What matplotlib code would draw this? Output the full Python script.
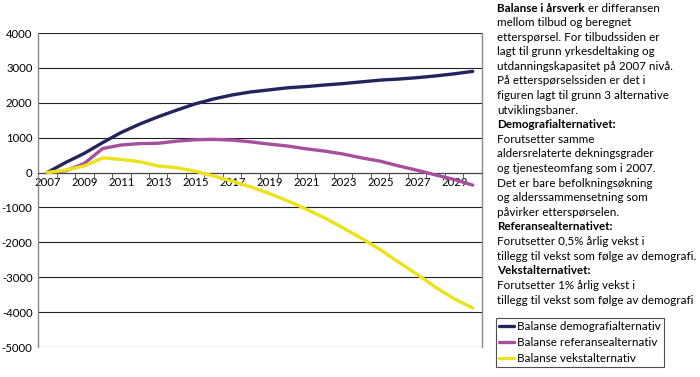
import matplotlib
matplotlib.use("Agg")
import matplotlib.pyplot as plt

plt.rcParams['font.family'] = ['Lato', 'DejaVu Sans']

years = list(range(2007, 2031))
demografi = [0, 290, 550, 860, 1150, 1390, 1600, 1790, 1970, 2110, 2225, 2310,
             2370, 2430, 2465, 2510, 2550, 2600, 2650, 2680, 2720, 2770, 2830, 2900]
referanse = [0, 50, 260, 690, 790, 830, 840, 900, 940, 950, 930, 880,
             815, 760, 680, 615, 530, 420, 325, 190, 65, -70, -200, -360]
vekst = [0, 70, 190, 420, 375, 310, 190, 135, 40, -100, -250, -410,
         -600, -810, -1050, -1300, -1590, -1890, -2210, -2570, -2920, -3290, -3620, -3880]

series_labels = ["Balanse demografialternativ", "Balanse referansealternativ",
                 "Balanse vekstalternativ"]
series_colors = ["#23245e", "#a4509f", "#ece21c"]

yticks = list(range(-5000, 4001, 1000))

fig = plt.figure(figsize=(7, 3.77), dpi=100)
ax = fig.add_axes([38/700, 1 - 347/377, 444/700, 314/377])

x = list(range(len(years)))
lines = []
for vals, color, label in zip([demografi, referanse, vekst], series_colors, series_labels):
    ln, = ax.plot(x, vals, color=color, lw=2.4, label=label, solid_capstyle='round', zorder=3)
    lines.append(ln)

ax.set_xlim(-0.5, len(years) - 0.5)
ax.set_ylim(-5000, 4000)
ax.set_yticks(yticks)
ax.set_yticklabels([str(v) for v in yticks], fontsize=8.2)
ax.tick_params(axis='y', length=0, pad=4)
ax.grid(axis='y', color='#222222', lw=0.8, zorder=1)

# x axis sits at zero
ax.spines['bottom'].set_position(('data', 0))
ax.spines['bottom'].set_color('#444444')
ax.spines['top'].set_visible(False)
for s in ['left', 'right']:
    ax.spines[s].set_color('#888888')
    ax.spines[s].set_linewidth(1.0)
ax.set_xticks(x[::2])
ax.set_xticklabels([str(y) for y in years[::2]], fontsize=8.2)
ax.set_xticks([i + 0.5 for i in x[:-1]], minor=True)
ax.tick_params(axis='x', which='major', length=0, pad=3)
ax.tick_params(axis='x', which='minor', length=4, color='#444444')

# text panel on the right
tx = 497 / 700
def fy(py):
    return 1 - py / 377

fs = 8.4
rows = [
    (None, "mellom tilbud og beregnet"),
    (None, "etterspørsel. For tilbudssiden er"),
    (None, "lagt til grunn yrkesdeltaking og"),
    (None, "utdanningskapasitet på 2007 nivå."),
    (None, "På etterspørselssiden er det i"),
    (None, "figuren lagt til grunn 3 alternative"),
    (None, "utviklingsbaner."),
    ("b", "Demografialternativet:"),
    (None, "Forutsetter samme"),
    (None, "aldersrelaterte dekningsgrader"),
    (None, "og tjenesteomfang som i 2007."),
    (None, "Det er bare befolkningsøkning"),
    (None, "og alderssammensetning som"),
    (None, "påvirker etterspørselen."),
    ("b", "Referansealternativet:"),
    (None, "Forutsetter 0,5% årlig vekst i"),
    (None, "tillegg til vekst som følge av demografi."),
    ("b", "Vekstalternativet:"),
    (None, "Forutsetter 1% årlig vekst i"),
    (None, "tillegg til vekst som følge av demografi"),
]

first = fig.text(tx, fy(8), "Balanse i årsverk", fontsize=fs, fontweight='bold', va='center')
ax.annotate(" er differansen", xy=(1, 0.5), xycoords=first, va='center',
            fontsize=fs, annotation_clip=False)

py = 8
for kind, txt in rows:
    py += 14.6
    fig.text(tx, fy(py), txt, fontsize=fs, va='center',
             fontweight='bold' if kind == 'b' else 'normal')

leg = fig.legend(handles=lines, loc='upper left', bbox_to_anchor=(496/700, fy(318)),
                 bbox_transform=fig.transFigure, fontsize=fs, frameon=True,
                 fancybox=False, edgecolor='#222222', handlelength=1.2,
                 handletextpad=0.3, borderpad=0.3, labelspacing=0.4,
                 borderaxespad=0)
leg.get_frame().set_linewidth(0.8)

fig.savefig("out.png", dpi=100)
